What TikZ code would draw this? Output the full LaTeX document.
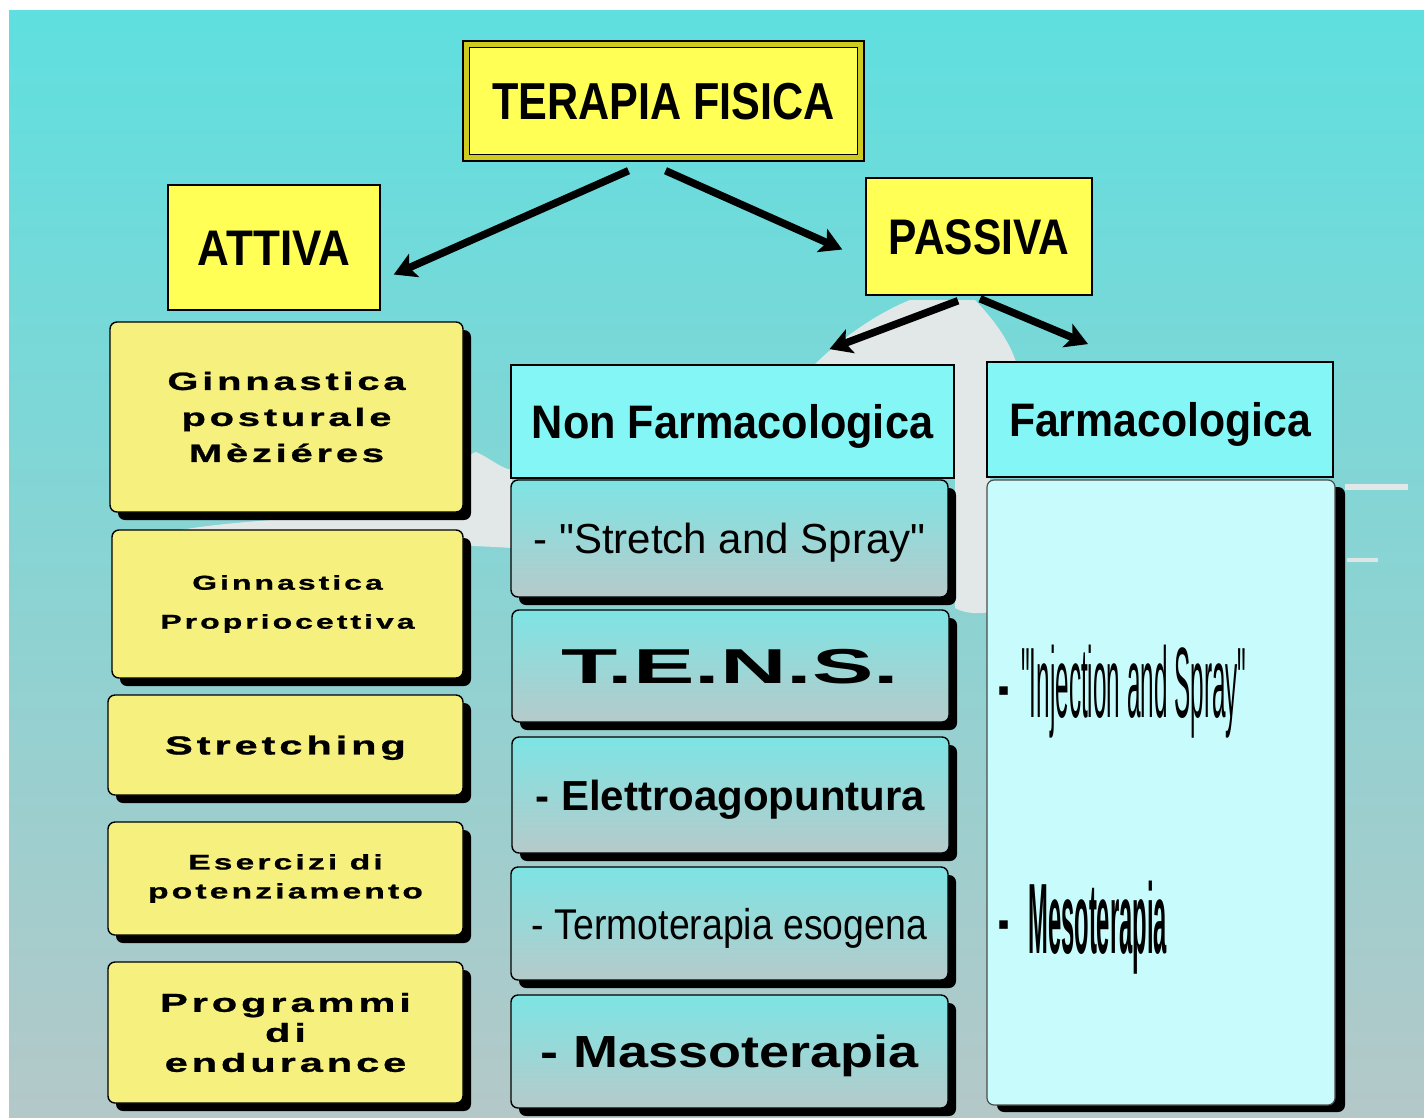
\documentclass[tikz,border=0pt]{standalone}
\usepackage{fontspec}
\setmainfont{Liberation Sans}
\newfontfamily\qsans{Liberation Sans}
\newfontfamily\widefont[FakeStretch=1.6,LetterSpace=15,FakeBold=1]{Liberation Sans}
\newfontfamily\symfont{DejaVu Sans}
\usetikzlibrary{shadows,arrows.meta,calc}
\newcommand\hsc[2]{\scalebox{#1}[1]{#2}}
\newcommand\fsz[2]{\fontsize{#1}{#2}\selectfont}
\definecolor{bgtop}{HTML}{5FDFDF}
\definecolor{bgbot}{HTML}{B4C8C8}
\definecolor{yelA}{HTML}{FFFF55}
\definecolor{yelB}{HTML}{F6F07E}
\definecolor{frameband}{HTML}{CFCB1E}
\definecolor{cyhdr}{HTML}{84F6F6}
\definecolor{cybody}{HTML}{C8FCFC}
\definecolor{midtop}{HTML}{7EE4E4}
\definecolor{midbot}{HTML}{B6CACA}
\definecolor{cloudc}{HTML}{E2E8E8}
\begin{document}
\begin{tikzpicture}[x=1pt,y=-1pt,
  hdry/.style={draw=black,line width=1.5pt,fill=yelA,inner sep=0pt,font=\bfseries,text depth=0pt},
  tfbox/.style={draw=black,line width=1.6pt,double=frameband,double distance=5pt,fill=yelA,
    inner sep=0pt,font=\bfseries,text depth=0pt,minimum width=394.8pt,minimum height=113.8pt},
  hdrc/.style={draw=black,line width=1.8pt,fill=cyhdr,inner sep=0pt,font=\bfseries,text depth=0pt},
  ybox/.style={draw=black,line width=1.4pt,fill=yelB,rounded corners=7pt,inner sep=0pt,align=center,
    drop shadow={shadow xshift=8pt,shadow yshift=-8pt,fill=black,opacity=1}},
  mbox/.style={draw=black,line width=1.4pt,top color=midtop,bottom color=midbot,rounded corners=7pt,
    inner sep=0pt,minimum width=437pt,text depth=0pt,
    drop shadow={shadow xshift=8pt,shadow yshift=-8pt,fill=black,opacity=1}},
  fbody/.style={draw=black!70,line width=1.2pt,fill=cybody,rounded corners=7pt,inner sep=0pt,
    drop shadow={shadow xshift=10pt,shadow yshift=-7pt,fill=black,opacity=1}},
  arr/.style={line width=7.5pt,-{Stealth[length=22pt,width=25pt,inset=5pt]}},
  bul/.style={inner sep=0pt,font=\symfont\fsz{17}{17}}
]
\useasboundingbox (0,0) rectangle (1424,1117);
\fill[white] (0,0) rectangle (1424,1117);
\shade[top color=bgtop,bottom color=bgbot] (9,10) rectangle (1424,1117);
% clouds
\fill[cloudc] (815,364) .. controls (845,335) and (880,312) .. (910,300)
  -- (975,300) .. controls (992,318) and (1008,338) .. (1016,362)
  -- (990,362) -- (990,612) .. controls (975,615) and (962,612) .. (955,608)
  -- (955,364) -- cycle;
\fill[cloudc] (180,530) .. controls (250,518) and (380,514) .. (440,512)
  .. controls (455,480) and (468,452) .. (476,452) .. controls (490,458) and (500,468) .. (512,470)
  -- (512,548) .. controls (470,545) and (350,542) .. (180,536) -- cycle;
\fill[cloudc] (1345,484) rectangle (1408,490);
\fill[cloudc!90!bgbot] (1347,558) rectangle (1378,562);
% top level
\node[tfbox,text height=37pt] (tf) at (663.5,101) {\fsz{52}{52}\hsc{0.83}{TERAPIA FISICA}};
\node[hdry,minimum width=212pt,minimum height=125pt,text height=36pt] (att) at (274,247.5)
  {\fsz{50}{50}\hsc{0.88}{ATTIVA}};
\node[hdry,minimum width=226pt,minimum height=117pt,text height=36pt] (pas) at (979,236.5)
  {\fsz{50}{50}\hsc{0.85}{PASSIVA}};
% left column
\node[ybox,minimum width=353pt,minimum height=190pt,font={\widefont\bfseries\fsz{25}{36}}] (l1) at (286.5,417)
  {Ginnastica\\posturale\\Mèziéres};
\node[ybox,minimum width=351pt,minimum height=148pt,font={\widefont\bfseries\fsz{20}{39}}] (l2) at (287.5,604)
  {Ginnastica\\Propriocettiva};
\node[ybox,minimum width=355pt,minimum height=100pt,text depth=0pt,font={\widefont\bfseries\fsz{26}{26}}] (l3) at (285.5,745)
  {Stretching};
\node[ybox,minimum width=355pt,minimum height=113pt,font={\widefont\bfseries\fsz{21}{29}}] (l4) at (285.5,878.5)
  {Esercizi di\\potenziamento};
\node[ybox,minimum width=355pt,minimum height=141pt,font={\widefont\bfseries\fsz{26}{30}}] (l5) at (285.5,1032.5)
  {Programmi\\di\\endurance};
% middle column
\node[hdrc,minimum width=443pt,minimum height=113pt,text height=33.7pt] (nf) at (732.5,421.5)
  {\fsz{47}{47}\hsc{0.92}{Non Farmacologica}};
\node[mbox,minimum height=117pt,text height=30pt] (m1) at (729.5,538.5)
  {\qsans\fsz{42}{42}- "Stretch and Spray"};
\node[mbox,minimum height=112pt,text height=35pt] (m2) at (730.5,666)
  {\fsz{49}{49}\bfseries\hsc{1.88}{T.E.N.S.}};
\node[mbox,minimum height=116pt,text height=30pt] (m3) at (730.5,795)
  {\fsz{42}{42}\bfseries - Elettroagopuntura};
\node[mbox,minimum height=113pt,text height=31pt] (m4) at (729.5,923.5)
  {\fsz{43}{43}\hsc{0.87}{- Termoterapia esogena}};
\node[mbox,minimum height=113pt,text height=32pt] (m5) at (729.5,1051.5)
  {\fsz{45}{45}\bfseries\hsc{1.2}{- Massoterapia}};
% right column
\node[fbody,minimum width=348pt,minimum height=625pt] (fb) at (1161,792.5) {};
\node[hdrc,minimum width=346pt,minimum height=115pt,text height=33.7pt] (fh) at (1160,419.5)
  {\fsz{47}{47}\hsc{0.91}{Farmacologica}};
\node[bul] (b1) at (1003.5,691) {▪};
\node[anchor=base west,inner sep=0pt] (t1) at (1021,717)
  {\qsans\fsz{100}{100}\hsc{0.243}{"Injection and Spray"}};
\node[bul] (b2) at (1003.5,925) {▪};
\node[anchor=base west,inner sep=0pt] (t2) at (1028,953)
  {\fsz{100}{100}\bfseries\hsc{0.238}{Mesoterapia}};
% arrows
\draw[arr] ($(tf.south)+(-35,12)$) -- ($(att.east)+(13,27)$);
\draw[arr] ($(tf.south)+(2,12)$) -- ($(pas.west)+(-23,13)$);
\draw[arr] ($(pas.south)+(-21,5)$) -- ($(nf.north)+(97,-15)$);
\draw[arr] ($(pas.south)+(1,3)$) -- ($(fh.north)+(-72,-17)$);
\end{tikzpicture}
\end{document}
